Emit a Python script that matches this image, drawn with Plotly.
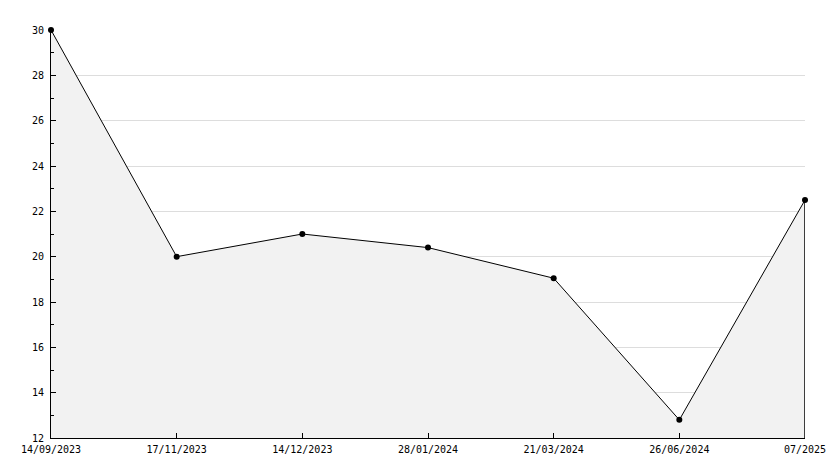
import plotly.graph_objects as go

dates = ["14/09/2023", "17/11/2023", "14/12/2023", "28/01/2024", "21/03/2024", "26/06/2024", "07/2025"]
values = [30, 20, 21, 20.4, 19.05, 12.8, 22.5]

y_min, y_max = 12, 30
xs = list(range(len(dates)))

fig = go.Figure()
fig.add_trace(go.Scatter(
    x=xs, y=values, mode="lines+markers", fill="tozeroy",
    fillcolor="#f2f2f2", line=dict(color="black", width=1),
    marker=dict(color="black", size=6, symbol="circle"),
    cliponaxis=False, showlegend=False, hoverinfo="x+y"))
# right closing edge of the filled area
fig.add_trace(go.Scatter(
    x=[xs[-1], xs[-1]], y=[y_min, values[-1]], mode="lines",
    line=dict(color="black", width=1.5), cliponaxis=False,
    showlegend=False, hoverinfo="skip"))

fig.update_layout(
    width=834, height=468,
    margin=dict(l=51, r=29, t=30, b=30),
    paper_bgcolor="white", plot_bgcolor="white",
    font=dict(family="DejaVu Sans Mono", size=10, color="black"),
)
fig.update_xaxes(
    range=[0, len(dates) - 1], tickvals=xs, ticktext=dates,
    showgrid=False, zeroline=False, automargin=False,
    showline=True, linecolor="black", linewidth=1,
    ticks="inside", ticklen=5, tickcolor="black", ticklabelstandoff=2,
)
fig.update_yaxes(
    range=[y_min, y_max], dtick=2, tick0=0, automargin=False,
    showgrid=True, gridcolor="#dddddd", gridwidth=1, zeroline=False,
    showline=True, linecolor="black", linewidth=1,
    ticks="inside", ticklen=5, tickcolor="black", ticklabelstandoff=4,
    minor=dict(dtick=1, ticks="inside", ticklen=3, tickcolor="black", showgrid=False),
)

fig.write_html("out.html", config={"displayModeBar": False},
               post_script="document.body.style.margin='0';")
